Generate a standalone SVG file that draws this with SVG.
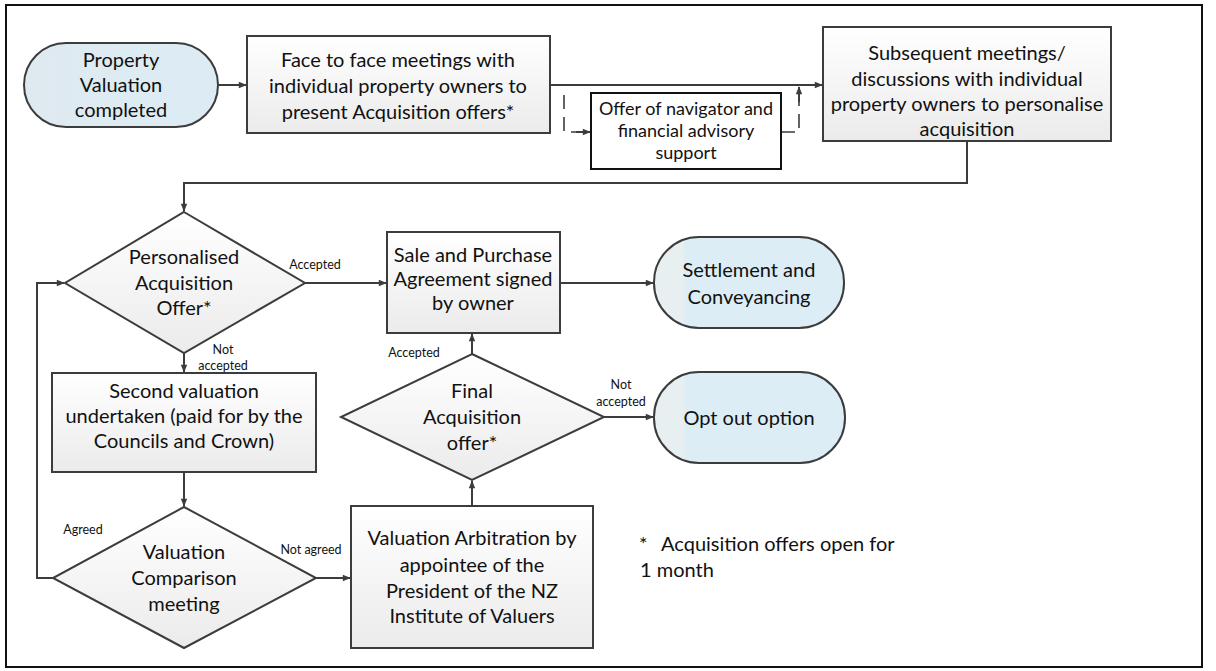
<svg xmlns="http://www.w3.org/2000/svg" width="1216" height="671" viewBox="0 0 1216 671">
  <defs>
    <linearGradient id="boxFill" x1="0" y1="0" x2="0" y2="1">
      <stop offset="0" stop-color="#ffffff"/>
      <stop offset="1" stop-color="#ebebeb"/>
    </linearGradient>
    <linearGradient id="pillFill" x1="0" y1="0" x2="1" y2="0">
      <stop offset="0" stop-color="#e8eff0"/>
      <stop offset="0.15" stop-color="#e8eff0"/>
      <stop offset="0.17" stop-color="#dcedf5"/>
      <stop offset="1" stop-color="#dcedf5"/>
    </linearGradient>
    <linearGradient id="pillFillStart" x1="0" y1="0" x2="1" y2="0">
      <stop offset="0" stop-color="#dfeaf0"/>
      <stop offset="1" stop-color="#dcecf4"/>
    </linearGradient>
    <marker id="arrow" viewBox="0 0 10 10" refX="9" refY="5" markerWidth="9" markerHeight="8" orient="auto" markerUnits="userSpaceOnUse">
      <path d="M0,1 L10,5 L0,9 Z" fill="#3c3c3c"/>
    </marker>
  </defs>
  <style>
    .box { fill: url(#boxFill); stroke: #3c3c3c; stroke-width: 2; }
    .pill { fill: url(#pillFill); stroke: #3c3c3c; stroke-width: 2; }
    .plain { fill: #ffffff; stroke: #111111; stroke-width: 2; }
    .t { font-family: Lato, "Open Sans", "Liberation Sans", sans-serif; font-size: 20px; fill: #111111; text-anchor: middle; }
    .ts { font-family: Lato, "Open Sans", "Liberation Sans", sans-serif; font-size: 18px; fill: #111111; text-anchor: middle; }
    .lbl { font-family: Lato, "Open Sans", "Liberation Sans", sans-serif; font-size: 12.5px; fill: #111111; text-anchor: middle; }
    .note { font-family: Lato, "Open Sans", "Liberation Sans", sans-serif; font-size: 20px; fill: #111111; }
    .c { fill: none; stroke: #3c3c3c; stroke-width: 2; }
    .dash { fill: none; stroke: #3c3c3c; stroke-width: 1.6; stroke-dasharray: 14 8; }
  </style>

  <rect width="1216" height="671" fill="#ffffff"/>
  <!-- page frame -->
  <rect x="6" y="5" width="1196" height="662" fill="none" stroke="#111111" stroke-width="2"/>

  <!-- connectors -->
  <g id="connectors">
    <line class="c" x1="218" y1="85" x2="246" y2="85" marker-end="url(#arrow)"/>
    <line class="c" x1="550" y1="85" x2="822" y2="85" marker-end="url(#arrow)"/>
    <polyline class="dash" points="564,95 564,132 578,132"/>
    <line class="c" x1="576" y1="132" x2="590" y2="132" stroke-width="1.6" marker-end="url(#arrow)"/>
    <polyline class="dash" points="781,132 799,132 799,100"/>
    <line class="c" x1="799" y1="102" x2="799" y2="87" stroke-width="1.6" marker-end="url(#arrow)"/>
    <polyline class="c" points="967,141 967,183 184,183 184,211" marker-end="url(#arrow)"/>
    <line class="c" x1="305" y1="283" x2="386" y2="283" marker-end="url(#arrow)"/>
    <line class="c" x1="560" y1="283" x2="653" y2="283" marker-end="url(#arrow)"/>
    <line class="c" x1="184" y1="353" x2="184" y2="372" marker-end="url(#arrow)"/>
    <line class="c" x1="184" y1="472" x2="184" y2="506" marker-end="url(#arrow)"/>
    <polyline class="c" points="53,578 37,578 37,283 64,283" marker-end="url(#arrow)"/>
    <line class="c" x1="316" y1="578" x2="350" y2="578" marker-end="url(#arrow)"/>
    <line class="c" x1="472" y1="506" x2="472" y2="481" marker-end="url(#arrow)"/>
    <line class="c" x1="472" y1="354" x2="472" y2="334" marker-end="url(#arrow)"/>
    <line class="c" x1="604" y1="417" x2="653" y2="417" marker-end="url(#arrow)"/>

    <text class="lbl" x="315" y="269">Accepted</text>
    <text class="lbl" x="223" y="354">Not</text>
    <text class="lbl" x="223" y="370">accepted</text>
    <text class="lbl" x="414" y="357">Accepted</text>
    <text class="lbl" x="621" y="389">Not</text>
    <text class="lbl" x="621" y="406">accepted</text>
    <text class="lbl" x="83" y="534">Agreed</text>
    <text class="lbl" x="311" y="554">Not agreed</text>
  </g>

  <g id="property-valuation">
    <rect x="24" y="43" width="194" height="84" rx="42" fill="url(#pillFillStart)" stroke="#3c3c3c" stroke-width="2"/>
    <text class="t" x="121" y="67">Property</text>
    <text class="t" x="121" y="92">Valuation</text>
    <text class="t" x="121" y="117">completed</text>
  </g>

  <g id="face-to-face">
    <rect class="box" x="247" y="36" width="303" height="97"/>
    <text class="t" x="398" y="67">Face to face meetings with</text>
    <text class="t" x="398" y="93">individual property owners to</text>
    <text class="t" x="398" y="119">present Acquisition offers*</text>
  </g>

  <g id="navigator-offer">
    <rect class="plain" x="591" y="93" width="190" height="76"/>
    <text class="ts" x="686" y="115">Offer of navigator and</text>
    <text class="ts" x="686" y="137">financial advisory</text>
    <text class="ts" x="686" y="159">support</text>
  </g>

  <g id="subsequent-meetings">
    <rect class="box" x="823" y="27" width="288" height="114"/>
    <text class="t" x="967" y="60">Subsequent meetings/</text>
    <text class="t" x="967" y="86">discussions with individual</text>
    <text class="t" x="967" y="111">property owners to personalise</text>
    <text class="t" x="967" y="136">acquisition</text>
  </g>

  <g id="personalised-offer">
    <polygon class="box" points="184,212 305,283 184,353 65,283"/>
    <text class="t" x="184" y="264">Personalised</text>
    <text class="t" x="184" y="290">Acquisition</text>
    <text class="t" x="184" y="315">Offer*</text>
  </g>

  <g id="sale-purchase">
    <rect class="box" x="387" y="232" width="173" height="101"/>
    <text class="t" x="473" y="262">Sale and Purchase</text>
    <text class="t" x="473" y="286">Agreement signed</text>
    <text class="t" x="473" y="310">by owner</text>
  </g>

  <g id="settlement">
    <rect class="pill" x="654" y="237" width="190" height="91" rx="45"/>
    <text class="t" x="749" y="277">Settlement and</text>
    <text class="t" x="749" y="304">Conveyancing</text>
  </g>

  <g id="second-valuation">
    <rect class="box" x="52" y="373" width="264" height="99"/>
    <text class="t" x="184" y="398">Second valuation</text>
    <text class="t" x="184" y="423">undertaken (paid for by the</text>
    <text class="t" x="184" y="448">Councils and Crown)</text>
  </g>

  <g id="final-offer">
    <polygon class="box" points="472,354 604,417 472,480 341,417"/>
    <text class="t" x="472" y="398">Final</text>
    <text class="t" x="472" y="424">Acquisition</text>
    <text class="t" x="472" y="450">offer*</text>
  </g>

  <g id="opt-out">
    <rect class="pill" x="654" y="372" width="191" height="91" rx="45"/>
    <text class="t" x="749" y="425">Opt out option</text>
  </g>

  <g id="valuation-comparison">
    <polygon class="box" points="184,507 316,578 184,648 53,578"/>
    <text class="t" x="184" y="559">Valuation</text>
    <text class="t" x="184" y="585">Comparison</text>
    <text class="t" x="184" y="611">meeting</text>
  </g>

  <g id="arbitration">
    <rect class="box" x="351" y="506" width="242" height="142"/>
    <text class="t" x="472" y="545">Valuation Arbitration by</text>
    <text class="t" x="472" y="572">appointee of the</text>
    <text class="t" x="472" y="598">President of the NZ</text>
    <text class="t" x="472" y="623">Institute of Valuers</text>
  </g>

  <g id="footnote">
    <text class="note" y="551"><tspan x="639">*</tspan><tspan x="661">Acquisition offers open for</tspan></text>
    <text class="note" x="640" y="577">1 month</text>
  </g>
</svg>
